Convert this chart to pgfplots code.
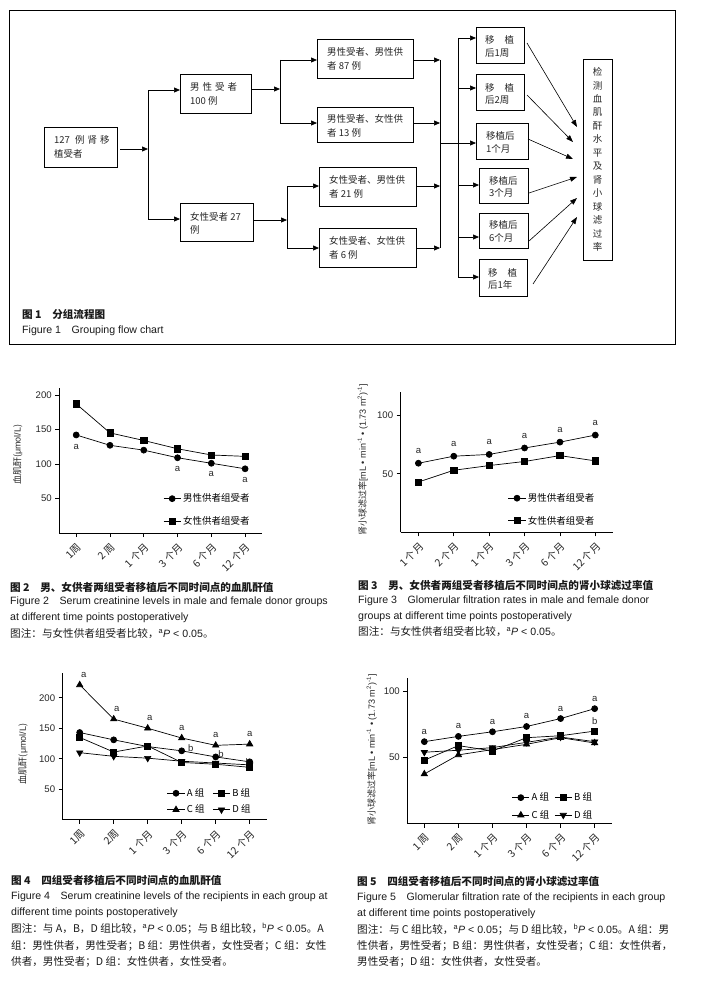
\documentclass[border=0pt]{standalone}
\usepackage{fontspec}
\setmainfont{Noto Sans CJK SC}
\newfontfamily\en{Liberation Sans}
\usepackage{pgfplots}
\pgfplotsset{compat=1.18}
\usetikzlibrary{arrows.meta}

\tikzset{
  bx/.style={draw, line width=0.8pt},
  ln/.style={line width=0.7pt},
  ar/.style={-{Triangle[length=6pt,width=5pt]}, line width=0.7pt},
  dg/.style={-{Triangle[length=7pt,width=5pt]}, line width=0.6pt},
  ft/.style={anchor=west, inner sep=0pt, font=\fontsize{9.5}{11}\selectfont, black!85},
  capt/.style={anchor=west, inner sep=0pt, font=\fontsize{10.6}{12}\selectfont, black!90},
  an/.style={inner sep=0pt, font=\en\fontsize{9.5}{9}\selectfont, black!85},
}

\pgfplotsset{
  ckd/.style={
    scale only axis, anchor=south west,
    xmin=0.5, xmax=6.5, ymin=0,
    axis x line=bottom, axis y line=left,
    axis line style={-, line width=0.8pt},
    tick align=outside, major tick length=4pt,
    tick style={line width=0.8pt, black},
    xtick={1,...,6}, clip=false,
    /pgf/number format/assume math mode=true,
    yticklabel style={font=\en\fontsize{9.6}{9}\selectfont, black!85},
    xticklabel style={font=\fontsize{10.3}{10}\selectfont, rotate=45, anchor=north east, black!85},
    every axis plot/.append style={black, line width=0.7pt},
    legend style={draw=none, fill=none, inner sep=0pt, anchor=west,
      font=\fontsize{9.5}{11}\selectfont},
    legend cell align=left,
  },
  m1/.style={mark=*, mark size=3pt},
  m2/.style={mark=square*, mark size=3.1pt},
  m3/.style={mark=triangle*, mark size=3.6pt},
  m4/.style={mark=triangle*, mark size=3.6pt, mark options={rotate=180}},
}

\begin{document}
\begin{tikzpicture}
\useasboundingbox (0pt,0pt) rectangle (703pt,-982pt);

\begin{scope}[x=1pt, y=-1pt]
% frame of figure 1
\draw[line width=0.8pt] (9,10) rectangle (675,344);

% boxes
\draw[bx] (44,127) rectangle (117,167);
\node[ft] at (54,140) {127\hspace{5pt}例\hspace{3pt}肾\hspace{3pt}移};
\node[ft] at (54,154) {植受者};

\draw[bx] (180,74) rectangle (251,113);
\node[ft] at (190,87) {男\hspace{3pt}性\hspace{3pt}受\hspace{3pt}者};
\node[ft] at (190,101) {100 例};

\draw[bx] (180,203) rectangle (253,241);
\node[ft] at (190,217) {女性受者 27};
\node[ft] at (190,230) {例};

\draw[bx] (317,39) rectangle (413,78);
\node[ft] at (327,52) {男性受者、男性供};
\node[ft] at (327,66) {者 87 例};

\draw[bx] (317,107) rectangle (413,142);
\node[ft] at (327,119) {男性受者、女性供};
\node[ft] at (327,133) {者 13 例};

\draw[bx] (319,167) rectangle (416,206);
\node[ft] at (329,180) {女性受者、男性供};
\node[ft] at (329,194) {者 21 例};

\draw[bx] (319,228) rectangle (416,267);
\node[ft] at (329,241) {女性受者、女性供};
\node[ft] at (329,255) {者 6 例};

\draw[bx] (476,27) rectangle (524,63);
\node[ft] at (485,40) {移\hspace{10pt}植};
\node[ft] at (485,53) {后1周};

\draw[bx] (476,74) rectangle (524,110);
\node[ft] at (485,88) {移\hspace{10pt}植};
\node[ft] at (485,100) {后2周};

\draw[bx] (476,123) rectangle (528,159);
\node[ft] at (486,136) {移植后};
\node[ft] at (486,149) {1个月};

\draw[bx] (479,168) rectangle (528,203);
\node[ft] at (489,181) {移植后};
\node[ft] at (489,193) {3个月};

\draw[bx] (479,213) rectangle (528,248);
\node[ft] at (489,225) {移植后};
\node[ft] at (489,238) {6个月};

\draw[bx] (479,259) rectangle (527,296);
\node[ft] at (488,273) {移\hspace{10pt}植};
\node[ft] at (488,285) {后1年};

\draw[bx] (583,59) rectangle (612,260);
\foreach \c [count=\i from 0] in {检,测,血,肌,酐,水,平,及,肾,小,球,滤,过,率}
  \node[inner sep=0pt, font=\fontsize{9.5}{11}\selectfont, black!85] at (597.5,{72+13.46*\i}) {\c};

% connectors
\draw[ar] (120,149) -- (148,149);
\draw[ln] (148,90) -- (148,219);
\draw[ar] (148,90) -- (180,90);
\draw[ar] (148,219) -- (180,219);
\draw[ar] (251,89) -- (280,89);
\draw[ln] (280,60) -- (280,123);
\draw[ar] (280,60) -- (317,60);
\draw[ar] (280,123) -- (317,123);
\draw[ar] (253,220) -- (287,220);
\draw[ln] (287,186) -- (287,248);
\draw[ar] (287,186) -- (319,186);
\draw[ar] (287,248) -- (319,248);
\draw[ar] (413,60) -- (440,60);
\draw[ar] (413,123) -- (440,123);
\draw[ar] (416,186) -- (440,186);
\draw[ar] (416,248) -- (440,248);
\draw[ln] (440,60) -- (440,248);
\draw[ln] (440,143) -- (458,143);
\draw[ln] (458,38) -- (458,277);
\draw[ar] (458,38) -- (476,38);
\draw[ar] (458,88) -- (476,88);
\draw[ar] (458,143) -- (476,143);
\draw[ar] (458,185) -- (479,185);
\draw[ar] (458,237) -- (479,237);
\draw[ar] (458,277) -- (479,277);
\draw[dg] (527,43) -- (577,127);
\draw[dg] (527,95) -- (573,142);
\draw[dg] (528,139) -- (573,159);
\draw[dg] (529,193) -- (577,177);
\draw[dg] (529,241) -- (577,198);
\draw[dg] (533,284) -- (577,217);

\node[capt, font=\fontsize{10.6}{12}\selectfont\bfseries] at (22,314) {图 1\quad 分组流程图};
\node[capt, font=\en\fontsize{10.6}{12}\selectfont] at (22,331) {Figure 1\quad Grouping flow chart};

% captions figure 2
\node[capt, font=\fontsize{10.6}{12}\selectfont\bfseries] at (10,587) {图 2\quad 男、女供者两组受者移植后不同时间点的血肌酐值};
\node[capt, font=\en\fontsize{10.6}{12}\selectfont] at (10,602) {Figure 2\quad Serum creatinine levels in male and female donor groups};
\node[capt, font=\en\fontsize{10.6}{12}\selectfont] at (10,618) {at different time points postoperatively};
\node[capt] at (10,634) {图注：与女性供者组受者比较，{\en\textsuperscript{a}\textit{P} < 0.05}。};

% captions figure 3
\node[capt, font=\fontsize{10.6}{12}\selectfont\bfseries] at (358,585) {图 3\quad 男、女供者两组受者移植后不同时间点的肾小球滤过率值};
\node[capt, font=\en\fontsize{10.6}{12}\selectfont] at (358,601) {Figure 3\quad Glomerular filtration rates in male and female donor};
\node[capt, font=\en\fontsize{10.6}{12}\selectfont] at (358,617) {groups at different time points postoperatively};
\node[capt] at (358,632) {图注：与女性供者组受者比较，{\en\textsuperscript{a}\textit{P} < 0.05}。};

% captions figure 4
\node[capt, font=\fontsize{10.6}{12}\selectfont\bfseries] at (11,880) {图 4\quad 四组受者移植后不同时间点的血肌酐值};
\node[capt, font=\en\fontsize{10.6}{12}\selectfont] at (11,896.5) {Figure 4\quad Serum creatinine levels of the recipients in each group at};
\node[capt, font=\en\fontsize{10.6}{12}\selectfont] at (11,912.5) {different time points postoperatively};
\node[capt] at (11,929) {图注：与 A，B，D 组比较，{\en\textsuperscript{a}\textit{P} < 0.05}；与 B 组比较，{\en\textsuperscript{b}\textit{P} < 0.05}。A};
\node[capt] at (11,945.5) {组：男性供者，男性受者；B 组：男性供者，女性受者；C 组：女性};
\node[capt] at (11,961.5) {供者，男性受者；D 组：女性供者，女性受者。};

% captions figure 5
\node[capt, font=\fontsize{10.6}{12}\selectfont\bfseries] at (357,881) {图 5\quad 四组受者移植后不同时间点的肾小球滤过率值};
\node[capt, font=\en\fontsize{10.6}{12}\selectfont] at (357,898) {Figure 5\quad Glomerular filtration rate of the recipients in each group};
\node[capt, font=\en\fontsize{10.6}{12}\selectfont] at (357,914) {at different time points postoperatively};
\node[capt] at (357,930) {图注：与 C 组比较，{\en\textsuperscript{a}\textit{P} < 0.05}；与 D 组比较，{\en\textsuperscript{b}\textit{P} < 0.05}。A 组：男};
\node[capt] at (357,946) {性供者，男性受者；B 组：男性供者，女性受者；C 组：女性供者，};
\node[capt] at (357,962) {男性受者；D 组：女性供者，女性受者。};
\end{scope}

% Figure 2
\begin{axis}[ckd, at={(59.3pt,-533pt)}, width=202.7pt, height=145pt,
  ymax=210, ytick={50,100,150,200},
  xticklabels={1周,2 周,1 个月,3 个月,6 个月,12 个月},
  ylabel={血肌酐({\en μmol/L})},
  ylabel style={at={(axis description cs:-0.205,0.54)}, anchor=center, font=\fontsize{9}{9}\selectfont, black!85},
  legend style={at={(0.512,0.159)}, row sep=9pt}]
\addplot[m1] coordinates {(1,142) (2,127) (3,120) (4,109) (5,101) (6,93)};
\addlegendentry{男性供者组受者}
\addplot[m2] coordinates {(1,187) (2,145) (3,134) (4,122) (5,113) (6,111)};
\addlegendentry{女性供者组受者}
\node[an, yshift=-12pt] at (axis cs:1,142) {a};
\node[an, yshift=-11pt] at (axis cs:4,109) {a};
\node[an, yshift=-11pt] at (axis cs:5,101) {a};
\node[an, yshift=-11pt] at (axis cs:6,93) {a};
\end{axis}

% Figure 3
\begin{axis}[ckd, at={(400.7pt,-532.4pt)}, width=212.3pt, height=140.7pt,
  ymax=120, ytick={50,100},
  xticklabels={1 个月,2 个月,1 个月,3 个月,6 个月,12 个月},
  ylabel={肾小球滤过率{\en [mL • min\textsuperscript{-1} • (1.73 m\textsuperscript{2})\textsuperscript{-1}]}},
  ylabel style={at={(axis description cs:-0.179,0.515)}, anchor=center, font=\fontsize{9}{9}\selectfont, black!85},
  legend style={at={(0.505,0.163)}, row sep=9pt}]
\addplot[m1] coordinates {(1,59) (2,65) (3,66.5) (4,72) (5,77) (6,83)};
\addlegendentry{男性供者组受者}
\addplot[m2] coordinates {(1,43) (2,53) (3,57) (4,60.5) (5,65.5) (6,61)};
\addlegendentry{女性供者组受者}
\node[an, yshift=12pt] at (axis cs:1,59) {a};
\node[an, yshift=12pt] at (axis cs:2,65) {a};
\node[an, yshift=12pt] at (axis cs:3,66.5) {a};
\node[an, yshift=12pt] at (axis cs:4,72) {a};
\node[an, yshift=12pt] at (axis cs:5,77) {a};
\node[an, yshift=12pt] at (axis cs:6,83) {a};
\end{axis}

% Figure 4
\begin{axis}[ckd, at={(62.7pt,-819.8pt)}, width=204pt, height=146.5pt,
  ymax=240, ytick={50,100,150,200},
  xticklabels={1周,2周,1 个月,3 个月,6 个月,12 个月},
  ylabel={血肌酐({\en μmol/L})},
  ylabel style={at={(axis description cs:-0.195,0.45)}, anchor=center, font=\fontsize{9}{9}\selectfont, black!85},
  legend columns=2,
  legend style={at={(0.511,0.125)}, row sep=3pt,
    /tikz/every even column/.append style={column sep=6pt}}]
\addplot[m1] coordinates {(1,143) (2,131) (3,120) (4,113) (5,103) (6,95)};
\addlegendentry{A 组}
\addplot[m2] coordinates {(1,135) (2,111) (3,121) (4,94) (5,91) (6,86)};
\addlegendentry{B 组}
\addplot[m3] coordinates {(1,221) (2,165) (3,150) (4,134) (5,122) (6,124)};
\addlegendentry{C 组}
\addplot[m4] coordinates {(1,110) (2,104) (3,101) (4,96) (5,93) (6,90)};
\addlegendentry{D 组}
\node[an, xshift=4pt, yshift=10pt] at (axis cs:1,221) {a};
\node[an, xshift=3pt, yshift=10pt] at (axis cs:2,165) {a};
\node[an, xshift=2pt, yshift=10pt] at (axis cs:3,150) {a};
\node[an, yshift=10pt] at (axis cs:4,134) {a};
\node[an, yshift=10pt] at (axis cs:5,122) {a};
\node[an, yshift=10pt] at (axis cs:6,124) {a};
\node[an] at (axis cs:4.27,117.7) {b};
\node[an] at (axis cs:5.16,107.9) {b};
\node[an] at (axis cs:5.96,94) {b};
\end{axis}

% Figure 5
\begin{axis}[ckd, at={(407.3pt,-823.5pt)}, width=204.4pt, height=145.2pt,
  ymax=110, ytick={50,100},
  xticklabels={1 周,2 周,1 个月,3 个月,6 个月,12 个月},
  ylabel={肾小球滤过率{\en [mL • min\textsuperscript{-1} • (1.73 m\textsuperscript{2})\textsuperscript{-1}]}},
  ylabel style={at={(axis description cs:-0.174,0.506)}, anchor=center, font=\fontsize{9}{9}\selectfont, black!85},
  legend columns=2,
  legend style={at={(0.511,0.118)}, row sep=4pt,
    /tikz/every even column/.append style={column sep=3pt}}]
\addplot[m1] coordinates {(1,62) (2,66) (3,69.5) (4,73.5) (5,79.5) (6,87)};
\addlegendentry{A 组}
\addplot[m2] coordinates {(1,48) (2,59) (3,55) (4,65) (5,66.5) (6,70)};
\addlegendentry{B 组}
\addplot[m3] coordinates {(1,37.5) (2,52) (3,56) (4,60) (5,65) (6,61)};
\addlegendentry{C 组}
\addplot[m4] coordinates {(1,54) (2,55.5) (3,57.5) (4,61.5) (5,65.5) (6,62)};
\addlegendentry{D 组}
\node[an, yshift=10pt] at (axis cs:1,62) {a};
\node[an, yshift=10pt] at (axis cs:2,66) {a};
\node[an, yshift=10pt] at (axis cs:3,69.5) {a};
\node[an, yshift=10pt] at (axis cs:4,73.5) {a};
\node[an, yshift=10pt] at (axis cs:5,79.5) {a};
\node[an, yshift=10pt] at (axis cs:6,87) {a};
\node[an, yshift=10pt] at (axis cs:6,70) {b};
\end{axis}
\end{tikzpicture}
\end{document}
